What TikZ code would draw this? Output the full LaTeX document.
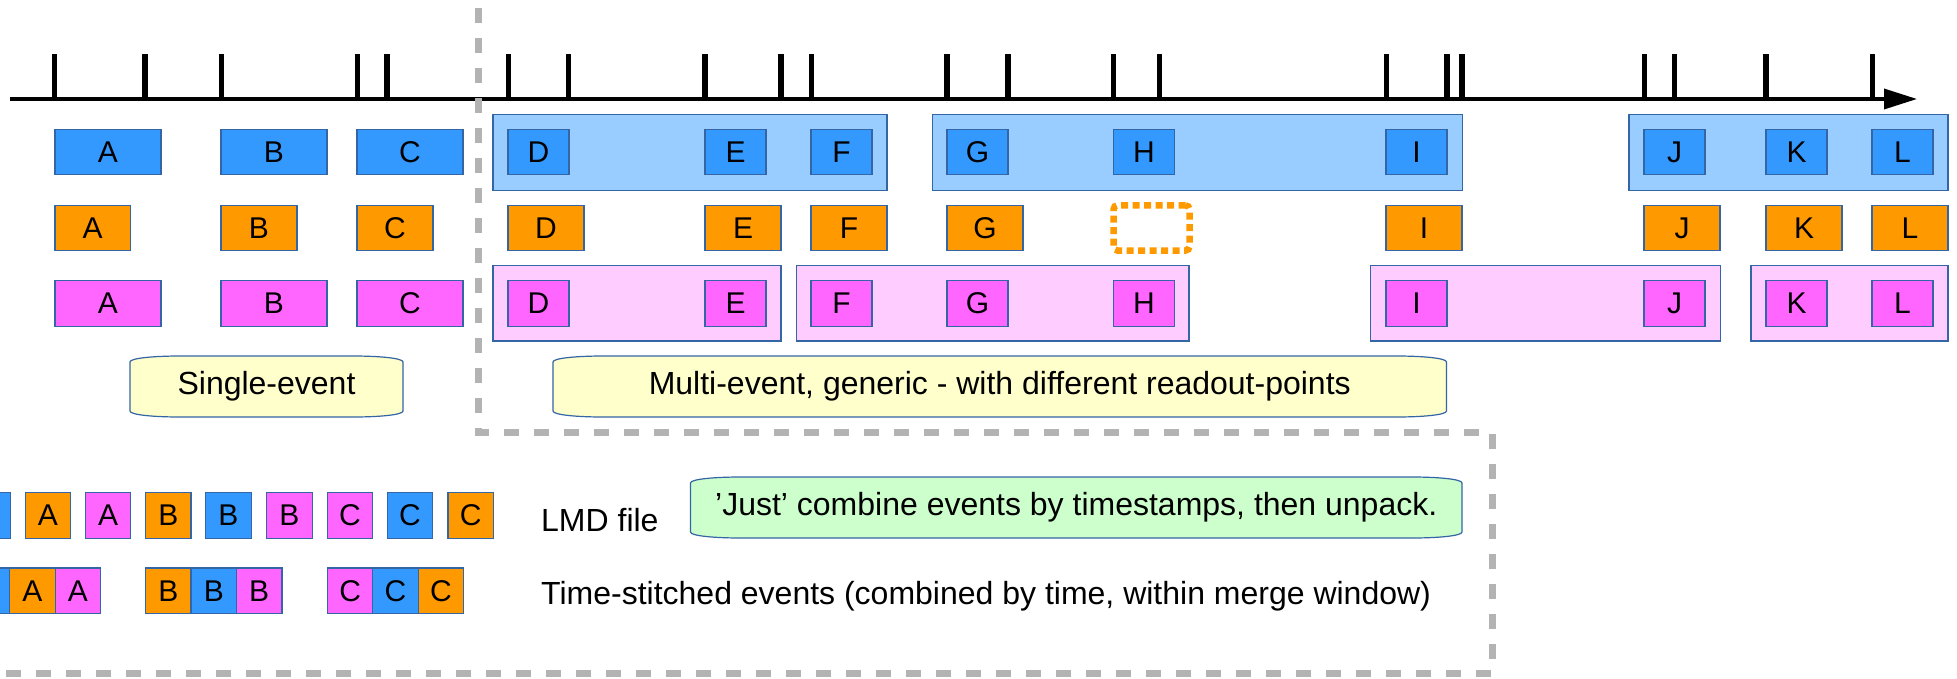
\documentclass[tikz,border=0pt]{standalone}
\usepackage{fontspec}
\setmainfont{Liberation Sans}
\usetikzlibrary{arrows.meta}

\definecolor{evblue}{HTML}{3399FF}
\definecolor{grpblue}{HTML}{99CCFF}
\definecolor{evorange}{HTML}{FF9900}
\definecolor{evpink}{HTML}{FF66FF}
\definecolor{grppink}{HTML}{FFCCFF}
\definecolor{lblyellow}{HTML}{FFFFCC}
\definecolor{lblgreen}{HTML}{CCFFCC}
\definecolor{edgecol}{HTML}{3465A4}
\definecolor{dashgray}{HTML}{B3B3B3}

\newcommand\evfont{\fontsize{30}{36}\selectfont}
\newcommand\lblfont{\fontsize{32}{38}\selectfont}

% label box with flattened elliptic corners: L T R B fill
\newcommand\lblshape[5]{%
  \filldraw[fill=#5, draw=edgecol, line width=1.2pt]
    (#1,#2+6) .. controls (#1,#2+2) and (#1+25,#2) .. (#1+50,#2)
    -- (#3-50,#2) .. controls (#3-25,#2) and (#3,#2+2) .. (#3,#2+6)
    -- (#3,#4-6) .. controls (#3,#4-2) and (#3-25,#4) .. (#3-50,#4)
    -- (#1+50,#4) .. controls (#1+25,#4) and (#1,#4-2) .. (#1,#4-6)
    -- cycle;}

\tikzset{
  base/.style={draw=edgecol, line width=1.2pt, inner sep=0pt, outer sep=0pt,
               anchor=north west, font=\evfont},
  evwide/.style={base, minimum width=106pt, minimum height=45.4pt},
  evnarrow/.style={base, minimum width=61pt, minimum height=45.4pt},
  evmid/.style={base, minimum width=76pt, minimum height=45.2pt},
  evsmall/.style={base, minimum width=45.4pt, minimum height=45.4pt},
  bl/.style={fill=evblue},
  orng/.style={fill=evorange},
  pk/.style={fill=evpink},
  grpb/.style={base, fill=grpblue, minimum height=76pt},
  grpp/.style={base, fill=grppink, minimum height=75.3pt},
  missing/.style={draw=evorange, line width=6.5pt, dash pattern=on 7pt off 4.5pt,
                  rounded corners=4pt},
  lbltext/.style={font=\lblfont, inner sep=0pt},
  sidetext/.style={font=\lblfont, inner sep=0pt, anchor=west},
  tick/.style={line width=5.5pt},
  axis/.style={line width=3.5pt, -{Triangle[length=33pt,width=20pt]}},
  frame/.style={draw=dashgray, line width=7pt, dash pattern=on 15pt off 15pt},
}

\begin{document}
\begin{tikzpicture}[x=1pt,y=-1pt]
\useasboundingbox (0,0) rectangle (1957,678);
\clip (0,0) rectangle (1957,678);

% time axis with readout ticks
\coordinate (axstart) at (10,99);
\coordinate (axend) at (1917,99);
\foreach \t in {54.7,145.2,221.4,357.3,387.2,508.4,568.6,705.2,781,811.3,947.2,
                1007.8,1113.5,1159.4,1386.3,1446.9,1462,1644.3,1674.6,1765.9,1872.4}
  \draw[tick] (\t,54) -- (\t,99);
\draw[axis] (axstart) -- (axend);

% multi-event groups
\node[grpb, minimum width=394pt] (gb1) at (493,114.3) {};
\node[grpb, minimum width=530pt] (gb2) at (932.5,114.3) {};
\node[grpb, minimum width=319pt] (gb3) at (1629,114.3) {};
\node[grpp, minimum width=288pt] (gp1) at (493,265.7) {};
\node[grpp, minimum width=392.5pt] (gp2) at (796.5,265.7) {};
\node[grpp, minimum width=349.8pt] (gp3) at (1370.7,265.7) {};
\node[grpp, minimum width=197pt] (gp4) at (1751,265.7) {};

% blue readout
\node[evwide, bl] (bA) at (55,129.3) {A};
\node[evwide, bl] (bB) at (221,129.3) {B};
\node[evwide, bl] (bC) at (357,129.3) {C};
\node[evnarrow, bl] (bD) at (508,129.3) {D};
\node[evnarrow, bl] (bE) at (705,129.3) {E};
\node[evnarrow, bl] (bF) at (811,129.3) {F};
\node[evnarrow, bl] (bG) at (947,129.3) {G};
\node[evnarrow, bl] (bH) at (1113.5,129.3) {H};
\node[evnarrow, bl] (bI) at (1386,129.3) {I};
\node[evnarrow, bl] (bJ) at (1644,129.3) {J};
\node[evnarrow, bl] (bK) at (1766,129.3) {K};
\node[evnarrow, bl] (bL) at (1872,129.3) {L};

% orange readout
\node[evmid, orng, minimum width=75.5pt] (oA) at (55,205.3) {A};
\node[evmid, orng] (oB) at (221,205.3) {B};
\node[evmid, orng] (oC) at (357,205.3) {C};
\node[evmid, orng] (oD) at (508,205.3) {D};
\node[evmid, orng] (oE) at (705,205.3) {E};
\node[evmid, orng] (oF) at (811,205.3) {F};
\node[evmid, orng] (oG) at (947,205.3) {G};
\node[evmid, draw=none, missing] (oH) at (1113.5,205.3) {};
\node[evmid, orng] (oI) at (1386,205.3) {I};
\node[evmid, orng] (oJ) at (1644,205.3) {J};
\node[evmid, orng] (oK) at (1766,205.3) {K};
\node[evmid, orng] (oL) at (1872,205.3) {L};

% pink readout
\node[evwide, pk] (pA) at (55,280.7) {A};
\node[evwide, pk] (pB) at (221,280.7) {B};
\node[evwide, pk] (pC) at (357,280.7) {C};
\node[evnarrow, pk] (pD) at (508,280.7) {D};
\node[evnarrow, pk] (pE) at (705,280.7) {E};
\node[evnarrow, pk] (pF) at (811,280.7) {F};
\node[evnarrow, pk] (pG) at (947,280.7) {G};
\node[evnarrow, pk] (pH) at (1113.5,280.7) {H};
\node[evnarrow, pk] (pI) at (1386,280.7) {I};
\node[evnarrow, pk] (pJ) at (1644,280.7) {J};
\node[evnarrow, pk] (pK) at (1766,280.7) {K};
\node[evnarrow, pk] (pL) at (1872,280.7) {L};

% section labels
\lblshape{130}{356}{403}{417}{lblyellow}
\node[lbltext] (single) at (266.5,386.5) {Single-event};
\lblshape{553}{356}{1446.5}{417}{lblyellow}
\node[lbltext] (multi) at (999.75,386.5) {Multi-event, generic - with different readout-points};

% dashed frames
\coordinate (f1) at (478,8);
\coordinate (f2) at (478,432);
\coordinate (f3) at (1492,432);
\coordinate (f4) at (1492,673);
\coordinate (f5) at (-20,673);
\draw[frame] (f1) -- (f2) -- (f3) -- (f4) -- (f5);

% LMD file order (first box runs off the left edge)
\node[evsmall, bl]   (lA1) at (-35,492.7) {};
\node[evsmall, orng] (lA2) at (25.2,492.7) {A};
\node[evsmall, pk]   (lA3) at (85.4,492.7) {A};
\node[evsmall, orng] (lB1) at (145.6,492.7) {B};
\node[evsmall, bl]   (lB2) at (205.8,492.7) {B};
\node[evsmall, pk]   (lB3) at (266.8,492.7) {B};
\node[evsmall, pk]   (lC1) at (327.2,492.7) {C};
\node[evsmall, bl]   (lC2) at (387.2,492.7) {C};
\node[evsmall, orng] (lC3) at (448,492.7) {C};
\node[sidetext] (lmd) at (541,520) {LMD file};

\lblshape{690.5}{477}{1462}{538}{lblgreen}
\node[lbltext] (just) at (1076.25,507.5) {’Just’ combine events by timestamps, then unpack.};

% time-stitched events (first box runs off the left edge)
\node[evsmall, bl]   (sA1) at (-35.6,568) {};
\node[evsmall, orng] (sA2) at (9.7,568) {A};
\node[evsmall, pk]   (sA3) at (55.1,568) {A};
\node[evsmall, orng] (sB1) at (145.6,568) {B};
\node[evsmall, bl]   (sB2) at (191.1,568) {B};
\node[evsmall, pk]   (sB3) at (236.5,568) {B};
\node[evsmall, pk]   (sC1) at (327.4,568) {C};
\node[evsmall, bl]   (sC2) at (372.8,568) {C};
\node[evsmall, orng] (sC3) at (418.2,568) {C};
\node[sidetext] (stitch) at (541,596) {Time-stitched events (combined by time, within merge window)};
\end{tikzpicture}
\end{document}
